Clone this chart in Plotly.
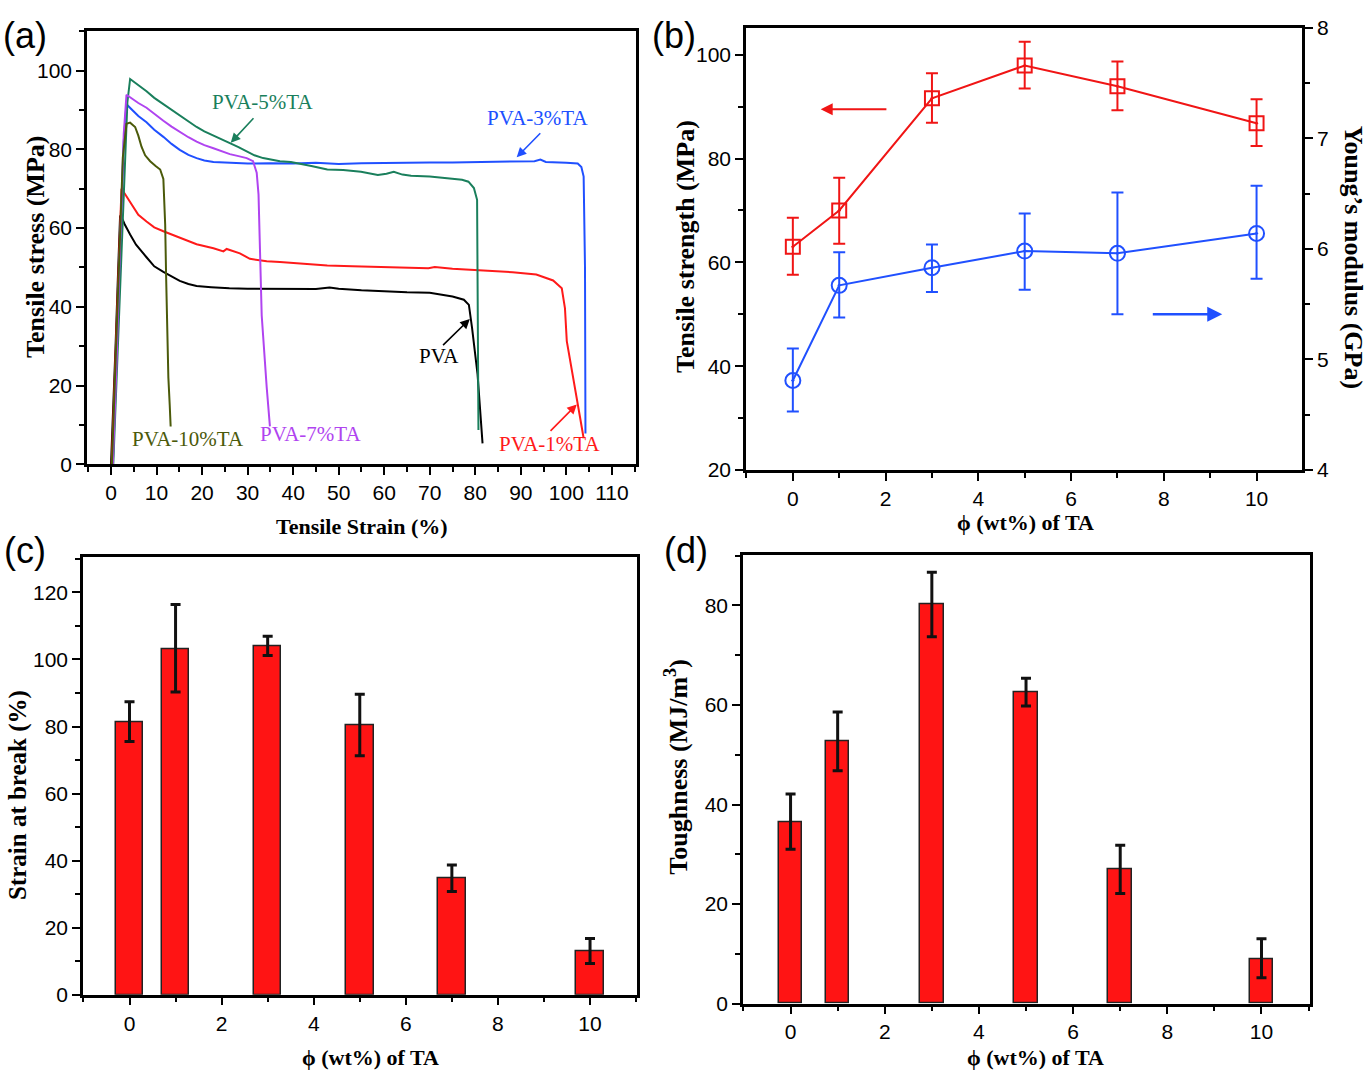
import plotly.graph_objects as go

# ---------------- DATA ----------------
# (a) stress-strain curves: strain (%) and stress (MPa)
pva_strain = [0, 0.5, 1.0, 1.5, 2.0, 2.5, 3.0, 4.2, 5.5, 7.8, 9.5, 11.5, 13.5, 15.1, 17, 18.8, 22, 26, 30, 35,
              40, 45, 48, 50, 55, 60, 65, 70, 72, 75, 77.5, 78.6, 79.3, 80.5, 81.6]
pva_stress = [0, 14, 30, 47, 63.2, 62.3, 61, 58.4, 55.8, 52.6, 50.3, 48.9, 47.6, 46.6, 45.8, 45.3, 45.0, 44.7, 44.6, 44.6,
              44.6, 44.5, 44.9, 44.6, 44.2, 43.9, 43.7, 43.6, 43.2, 42.6, 41.8, 40.5, 34.6, 22.9, 5.3]

ta1_strain = [0.15, 0.8, 1.5, 2.3, 3.0, 4.2, 6.0, 7.8, 9.5, 11.5, 15.1, 18.8, 22.5, 24.7, 25.4, 26.5, 28.3, 30.5, 34.2,
              37.1, 42, 47.5, 53, 58.6, 64, 69.7, 71.1, 75, 80.8, 85, 88.2, 93.4, 97.1, 99.0, 99.7, 100.1, 101.0,
              101.9, 103.0, 103.8]
ta1_stress = [0, 22, 46, 70.0, 68.8, 66.7, 63.4, 61.7, 60.2, 59.2, 57.6, 55.9, 54.9, 54.1, 54.7, 54.3, 53.6, 52.2, 51.6,
              51.4, 51.0, 50.5, 50.3, 50.1, 49.9, 49.8, 50.1, 49.7, 49.3, 49.0, 48.8, 48.2, 46.7, 44.7, 39.6, 31.3, 25,
              18.7, 12, 6.6]

ta3_strain = [0.4, 1.2, 2.0, 2.8, 3.4, 4.5, 6, 7.8, 9.5, 11.5, 13.3, 15.1, 17, 18.8, 20.5, 22.5, 26, 30, 35, 40, 45,
              50, 55, 60, 65, 70, 75, 80, 85, 90, 93, 94.3, 95.5, 100, 102.5, 103.3, 103.8, 104.1, 104.2]
ta3_stress = [0, 25, 55, 82, 91.5, 90.2, 88.5, 86.9, 85.0, 83.2, 81.4, 79.9, 78.6, 77.8, 77.2, 76.8, 76.6, 76.4, 76.5,
              76.4, 76.6, 76.3, 76.5, 76.6, 76.6, 76.7, 76.7, 76.8, 76.9, 77.0, 77.0, 77.4, 76.8, 76.6, 76.4, 75.5,
              73.1, 50, 7.8]

ta5_strain = [0.5, 1.3, 2.2, 3.0, 3.6, 4.2, 5.5, 7.8, 9.5, 11.5, 13.3, 15.1, 17, 18.8, 20.5, 22.5, 24.3, 26.1, 28, 29.8,
              31.5, 33.4, 35.5, 37.1, 39.5, 41.6, 44, 47.5, 51, 54.9, 58.6, 60.5, 62.1, 64, 65.9, 70, 73.4, 77.1, 78.5,
              79.7, 80.4, 80.6, 80.7]
ta5_stress = [0, 24, 52, 78, 92, 97.9, 96.8, 94.8, 93.1, 91.5, 90.0, 88.6, 87.1, 85.7, 84.6, 83.6, 82.6, 81.6, 80.6,
              79.5, 78.5, 77.8, 77.4, 77.0, 76.8, 76.4, 75.8, 74.9, 74.8, 74.3, 73.5, 73.8, 74.3, 73.6, 73.3, 73.1,
              72.8, 72.3, 71.8, 70.2, 67.2, 40, 8.7]

ta7_strain = [0.4, 1.2, 2.0, 2.8, 3.4, 4.5, 6, 7.8, 9.5, 11.5, 13.3, 15.1, 17, 18.8, 20.5, 22.5, 24.3, 26.1, 28, 29.8,
              31.2, 32.0, 32.4, 32.7, 33.1, 34.2, 34.9]
ta7_stress = [0, 25, 56, 84, 93.9, 93.0, 91.8, 90.6, 89.0, 87.3, 85.8, 84.4, 83.1, 82.0, 81.1, 80.3, 79.5, 78.8, 78.3,
              77.8, 77.0, 74.1, 68.5, 52.6, 37.8, 19.5, 9.6]

ta10_strain = [0.2, 1.0, 1.8, 2.6, 3.4, 4.2, 5.3, 6.0, 6.7, 7.5, 8.6, 9.8, 10.8, 11.5, 11.9, 12.1, 12.3, 12.6, 12.9, 13.1]
ta10_stress = [0, 24, 52, 78, 86.5, 86.8, 85.7, 83.5, 80.7, 78.5, 77.0, 75.8, 74.9, 72.5, 60.9, 48, 36.1, 22, 15, 9.6]

# (b)-(d) vs TA content
ta_content = [0, 1, 3, 5, 7, 10]
strength = [63.0, 70.0, 91.6, 97.9, 93.9, 86.8]
strength_err_plus = [5.6, 6.3, 4.8, 4.6, 4.8, 4.6]
strength_err_minus = [5.4, 6.4, 4.7, 4.4, 4.6, 4.4]
modulus = [4.81, 5.67, 5.83, 5.98, 5.96, 6.14]
modulus_err_plus = [0.29, 0.30, 0.21, 0.34, 0.55, 0.43]
modulus_err_minus = [0.28, 0.29, 0.22, 0.35, 0.55, 0.41]

strain_break = [81.2, 103.2, 104.0, 80.4, 34.7, 12.9]
strain_break_err_plus = [6.2, 13.2, 2.9, 9.2, 4.0, 3.9]
strain_break_err_minus = [5.7, 12.9, 2.8, 9.1, 3.9, 3.6]

toughness = [36.5, 52.7, 80.2, 62.6, 26.9, 9.0]
toughness_err_plus = [5.6, 5.9, 6.5, 2.8, 4.9, 4.0]
toughness_err_minus = [5.5, 5.9, 6.5, 2.8, 4.8, 3.8]

curve_names = ["PVA", "PVA-1%TA", "PVA-3%TA", "PVA-5%TA", "PVA-7%TA", "PVA-10%TA"]

# ---------------- STYLE ----------------
W, H = 1370, 1085
TICKFONT = dict(family="Liberation Sans, Arial, sans-serif", size=21, color="black")
TITLEFONT = dict(family="Liberation Serif, Times New Roman, serif", size=22, color="black")
VTITLEFONT = dict(family="Liberation Serif, Times New Roman, serif", size=26, color="black")
LBLFONT = dict(family="Liberation Serif, Times New Roman, serif", size=21)
PANELFONT = dict(family="Liberation Sans, Arial, sans-serif", size=36, color="black")

C_BLACK = "#000000"
C_RED = "#FF1A1A"
C_BLUE = "#2050FF"
C_GREEN = "#1A7F5C"
C_PURPLE = "#B044F0"
C_OLIVE = "#4B5A0A"


def fx(px):
    return min(1.0, max(0.0, px / W))


def fy(py):
    return min(1.0, max(0.0, 1 - py / H))


def xdom(a, b):
    return [fx(a), fx(b)]


def ydom(top, bottom):
    return [fy(bottom), fy(top)]


def axis(domain, rng, dtick, minor_dtick, anchor, tick0=0, mirror=True, side=None, overlaying=None):
    d = dict(range=rng, tick0=tick0, dtick=dtick, tickmode="linear",
             ticks="outside", ticklen=8, tickwidth=2, tickcolor="black",
             showline=True, linewidth=2.5, linecolor="black", mirror=mirror,
             showgrid=False, zeroline=False, anchor=anchor, tickfont=TICKFONT,
             minor=dict(ticks="outside", ticklen=5, tickwidth=2, tickcolor="black",
                        tick0=tick0, dtick=minor_dtick, showgrid=False))
    if domain is not None:
        d["domain"] = domain
    if side:
        d["side"] = side
    if overlaying:
        d["overlaying"] = overlaying
    return d


fig = go.Figure()

# ---------------- (a) ----------------
curves = [
    (pva_strain, pva_stress, C_BLACK),
    (ta1_strain, ta1_stress, C_RED),
    (ta3_strain, ta3_stress, C_BLUE),
    (ta5_strain, ta5_stress, C_GREEN),
    (ta7_strain, ta7_stress, C_PURPLE),
    (ta10_strain, ta10_stress, C_OLIVE),
]
for (xs, ys, col), nm in zip(curves, curve_names):
    fig.add_trace(go.Scatter(x=xs, y=ys, mode="lines", name=nm,
                             line=dict(color=col, width=2), xaxis="x", yaxis="y",
                             showlegend=False))

# ---------------- (b) ----------------
fig.add_trace(go.Scatter(x=ta_content, y=strength, mode="lines+markers", name="Tensile strength",
                         line=dict(color="#F01515", width=2),
                         marker=dict(symbol="square-open-dot", size=14, color="#F01515",
                                     line=dict(width=2, color="#F01515")),
                         error_y=dict(type="data", array=strength_err_plus, arrayminus=strength_err_minus,
                                      color="#F01515", thickness=2, width=6),
                         xaxis="x2", yaxis="y2", showlegend=False))
fig.add_trace(go.Scatter(x=ta_content, y=modulus, mode="lines+markers", name="Young's modulus",
                         line=dict(color=C_BLUE, width=2),
                         marker=dict(symbol="circle-open-dot", size=15, color=C_BLUE,
                                     line=dict(width=2, color=C_BLUE)),
                         error_y=dict(type="data", array=modulus_err_plus, arrayminus=modulus_err_minus,
                                      color=C_BLUE, thickness=2, width=6),
                         xaxis="x2", yaxis="y3", showlegend=False))

# ---------------- (c) ----------------
fig.add_trace(go.Bar(x=ta_content, y=strain_break, width=0.6,
                     marker=dict(color="#FF1414", line=dict(color="#222222", width=1.5)),
                     error_y=dict(type="data", array=strain_break_err_plus,
                                  arrayminus=strain_break_err_minus,
                                  color="#111111", thickness=3, width=5),
                     xaxis="x4", yaxis="y4", showlegend=False))

# ---------------- (d) ----------------
fig.add_trace(go.Bar(x=ta_content, y=toughness, width=0.5,
                     marker=dict(color="#FF1414", line=dict(color="#222222", width=1.5)),
                     error_y=dict(type="data", array=toughness_err_plus,
                                  arrayminus=toughness_err_minus,
                                  color="#111111", thickness=3, width=5),
                     xaxis="x5", yaxis="y5", showlegend=False))

layout = dict(
    width=W, height=H, margin=dict(l=0, r=0, t=0, b=0),
    paper_bgcolor="white", plot_bgcolor="white", showlegend=False,
    xaxis=axis(xdom(87, 636), [-5.27, 115.3], 10, 5, "y"),
    yaxis=axis(ydom(19, 462), [0, 110.2], 20, 10, "x"),
    xaxis2=axis(xdom(746, 1302), [-1.01, 10.98], 2, 1, "y2"),
    yaxis2=axis(ydom(16, 468), [20, 105.2], 20, 10, "x2", tick0=20),
    yaxis3=axis(None, [4, 8.0001], 1, 0.5, "x2", mirror=False, side="right", overlaying="y2"),
    xaxis4=axis(xdom(83, 637), [-1.01, 11.02], 2, 1, "y4"),
    yaxis4=axis(ydom(557, 1004), [0, 130.5], 20, 10, "x4"),
    xaxis5=axis(xdom(743, 1310), [-1.01, 11.03], 2, 1, "y5"),
    yaxis5=axis(ydom(555, 1013), [0, 90.1], 20, 10, "x5"),
    bargap=0,
)
fig.update_layout(**layout)

ann = []


def paper_text(txt, px, py, font, angle=0):
    ann.append(dict(text=txt, x=fx(px), y=fy(py), xref="paper", yref="paper",
                    showarrow=False, font=font, textangle=angle, xanchor="center", yanchor="middle"))


# axis titles
paper_text("<b>Tensile Strain (%)</b>", 362, 526, TITLEFONT)
paper_text("<b>Tensile stress (MPa)</b>", 36, 240, VTITLEFONT, -90)
paper_text("<b>ϕ (wt%) of TA</b>", 1025, 522, TITLEFONT)
paper_text("<b>Tensile strength (MPa)</b>", 686, 240, VTITLEFONT, -90)
paper_text("<b>Young’s modulus (GPa)</b>", 1353, 250, VTITLEFONT, 90)
paper_text("<b>ϕ (wt%) of TA</b>", 370, 1068, TITLEFONT)
paper_text("<b>Strain at break (%)</b>", 18, 800, dict(VTITLEFONT, size=25), -90)
paper_text("<b>ϕ (wt%) of TA</b>", 1035, 1068, TITLEFONT)
paper_text("<b>Toughness (MJ/m<sup>3</sup>)</b>", 677, 772, VTITLEFONT, -90)

# panel labels
paper_text("(a)", 25, 24, PANELFONT)
paper_text("(b)", 674, 24, PANELFONT)
paper_text("(c)", 25, 550, PANELFONT)
paper_text("(d)", 686, 550, PANELFONT)

# curve labels in (a)
labels_a = [
    ("PVA-5%TA", 33.2, 92.1, C_GREEN),
    ("PVA-3%TA", 93.6, 87.9, C_BLUE),
    ("PVA", 72.1, 27.4, C_BLACK),
    ("PVA-1%TA", 96.2, 5.1, C_RED),
    ("PVA-10%TA", 17.0, 6.4, C_OLIVE),
    ("PVA-7%TA", 43.8, 7.7, C_PURPLE),
]
for t, x, y, c in labels_a:
    ann.append(dict(text=t, x=x, y=y, xref="x", yref="y", showarrow=False,
                    font=dict(LBLFONT, color=c), xanchor="center", yanchor="middle"))

arrows_a = [
    (26.3, 81.7, 31.6, 88.3, C_GREEN),
    (89.1, 78.0, 94.6, 84.5, C_BLUE),
    (78.8, 36.9, 72.6, 29.9, C_BLACK),
    (102.3, 15.2, 96.2, 8.1, C_RED),
]
for hx, hy, tx, ty, c in arrows_a:
    ann.append(dict(text="", x=hx, y=hy, ax=tx, ay=ty, xref="x", yref="y", axref="x", ayref="y",
                    showarrow=True, arrowhead=2, arrowsize=1.2, arrowwidth=1.6, arrowcolor=c))

# arrows in (b)
ann.append(dict(text="", x=0.6, y=89.5, ax=2.05, ay=89.5, xref="x2", yref="y2", axref="x2", ayref="y2",
                showarrow=True, arrowhead=2, arrowsize=1.2, arrowwidth=2, arrowcolor="#F01515"))
ann.append(dict(text="", x=9.26, y=5.41, ax=7.73, ay=5.41, xref="x2", yref="y3", axref="x2", ayref="y3",
                showarrow=True, arrowhead=2, arrowsize=1.2, arrowwidth=2.5, arrowcolor=C_BLUE))

fig.update_layout(annotations=ann)

# pin the figure to the window's top-left corner (no page margin, no scrolling)
PIN_JS = ("document.body.style.margin='0px';"
          "document.body.style.overflow='hidden';"
          "document.documentElement.style.overflow='hidden';"
          "var gd=document.getElementById('{plot_id}');"
          "gd.style.position='absolute';gd.style.left='0px';gd.style.top='0px';")
fig.write_html("out.html", post_script=PIN_JS, config={"displayModeBar": False})
